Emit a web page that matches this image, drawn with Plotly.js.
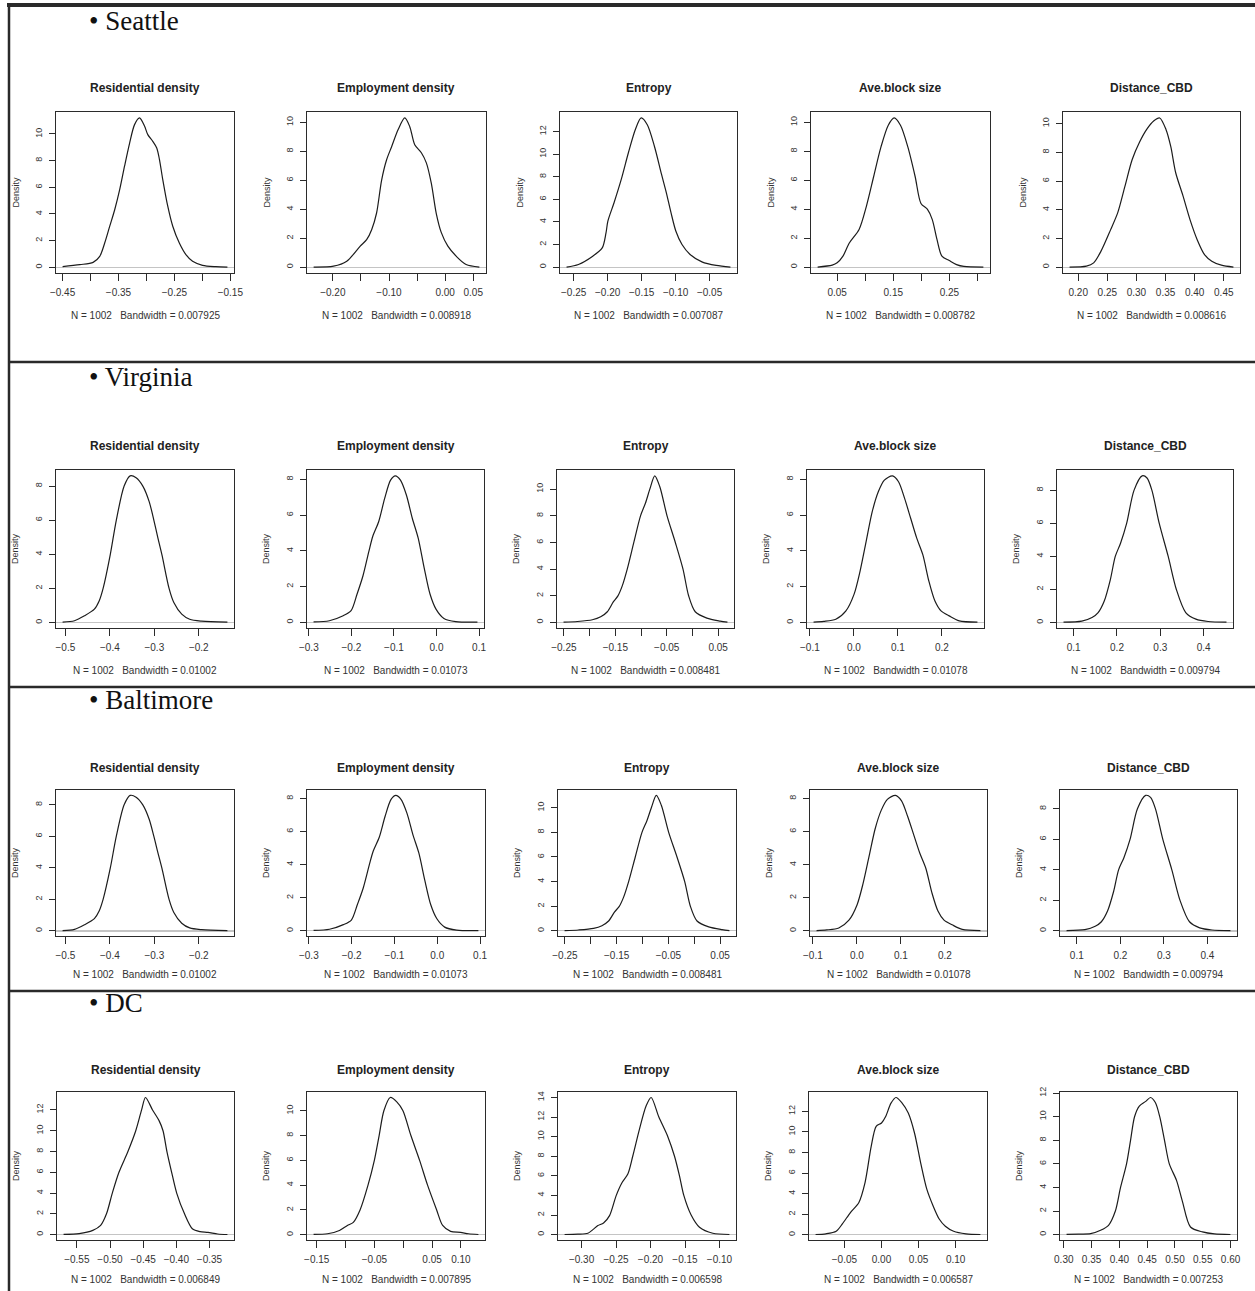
<!DOCTYPE html>
<html>
<head>
<meta charset="utf-8">
<script src="https://cdn.plot.ly/plotly-3.0.1.min.js"></script>
<style>
html,body{margin:0;padding:0;background:#fff;}
#chart{width:1255px;height:1291px;}
</style>
</head>
<body>
<div id="chart"></div>
<script>
// ---------------- DATA ----------------
const regions = ['Seattle', 'Virginia', 'Baltimore', 'DC'];
const variables = ['Residential density', 'Employment density', 'Entropy', 'Ave.block size', 'Distance_CBD'];
const sampleSize = 1002;

// Seattle
const seattleResX = [-0.450,-0.4192,-0.3954,-0.3836,-0.3747,-0.3658,-0.3569,-0.3480,-0.3391,-0.3302,-0.3213,-0.3124,-0.3035,-0.2976,-0.2887,-0.2816,-0.2768,-0.2709,-0.2620,-0.2531,-0.2412,-0.2294,-0.2175,-0.1997,-0.1760,-0.1552];
const seattleResY = [0.05,0.2,0.37,0.82,1.82,3.07,4.3,5.8,7.6,9.3,10.7,11.2,10.6,9.95,9.45,8.95,8.1,6.6,4.6,3.1,1.82,0.95,0.45,0.15,0.05,0.02];
const seattleEmpX = [-0.2342,-0.1988,-0.1752,-0.1516,-0.1398,-0.1309,-0.1221,-0.1132,-0.1044,-0.0955,-0.0837,-0.0719,-0.0630,-0.0542,-0.0424,-0.0335,-0.0247,-0.0158,-0.0070,0.0048,0.0196,0.0373,0.0609];
const seattleEmpY = [0.01,0.07,0.41,1.44,1.90,2.59,3.74,6.0,7.4,8.3,9.5,10.3,9.7,8.45,7.9,7.2,5.8,3.7,2.4,1.45,0.76,0.18,0.01];
const seattleEntX = [-0.2605,-0.243,-0.222,-0.208,-0.2025,-0.1997,-0.1906,-0.180,-0.1696,-0.1591,-0.1507,-0.1417,-0.1312,-0.1207,-0.1137,-0.1067,-0.0997,-0.0906,-0.0787,-0.0613,-0.0403,-0.0193];
const seattleEntY = [0.01,0.24,0.97,1.7,3.0,4.07,5.7,7.76,10.1,12.2,13.2,12.6,10.7,8.2,6.6,4.8,3.2,2.0,1.12,0.47,0.15,0.01];
const seattleBlkX = [0.0153,0.0413,0.050,0.0604,0.0717,0.0891,0.1021,0.1151,0.1281,0.1411,0.1516,0.1628,0.1759,0.1889,0.1993,0.2106,0.2193,0.2279,0.2366,0.2496,0.2627,0.2757,0.3104];
const seattleBlkY = [0.01,0.14,0.30,0.76,1.67,2.6,4.2,6.26,8.3,9.8,10.3,9.8,8.3,6.26,4.4,4.0,3.3,1.9,0.76,0.46,0.18,0.05,0.01];
const seattleCbdX = [0.1851,0.2141,0.2265,0.2389,0.2555,0.2679,0.2803,0.2927,0.3052,0.3176,0.3300,0.3399,0.3507,0.3590,0.3673,0.3797,0.3921,0.4045,0.4169,0.4294,0.4459,0.4666];
const seattleCbdY = [0.01,0.07,0.3,1.1,2.6,3.8,5.65,7.5,8.7,9.6,10.2,10.4,9.6,8.4,6.6,5.0,3.3,1.9,0.88,0.42,0.14,0.01];
const seattleBandwidth = ['0.007925','0.008918','0.007087','0.008782','0.008616'];

// Virginia
const virginiaResX = [-0.5063,-0.4795,-0.4571,-0.4348,-0.4241,-0.4152,-0.3991,-0.3857,-0.3679,-0.3544,-0.3410,-0.3259,-0.3116,-0.3009,-0.2919,-0.2830,-0.2669,-0.2562,-0.2384,-0.2205,-0.1937,-0.1357];
const virginiaResY = [0.02,0.10,0.39,0.78,1.26,2.0,3.98,5.98,8.0,8.6,8.49,8.0,7.09,5.98,4.95,3.98,2.0,1.17,0.49,0.19,0.08,0.02];
const virginiaEmpX = [-0.2889,-0.2517,-0.2193,-0.2007,-0.1868,-0.1729,-0.1589,-0.1497,-0.1357,-0.1218,-0.1079,-0.0968,-0.0847,-0.0708,-0.0569,-0.0430,-0.0290,-0.0151,-0.0012,0.0174,0.0452,0.0962];
const virginiaEmpY = [0.02,0.09,0.37,0.65,1.57,2.59,3.97,4.81,5.64,6.93,7.95,8.19,7.95,7.12,5.82,4.71,3.05,1.57,0.74,0.22,0.04,0.01];
const virginiaEntX = [-0.2506,-0.2236,-0.1945,-0.1784,-0.1655,-0.1539,-0.1449,-0.1365,-0.1268,-0.1140,-0.1010,-0.0913,-0.0829,-0.0733,-0.0636,-0.0494,-0.0333,-0.0184,-0.0075,0.0054,0.0280,0.0538,0.0680];
const virginiaEntY = [0.02,0.07,0.2,0.42,0.80,1.54,1.99,2.74,4.0,6.0,8.0,8.96,10.0,11.0,10.2,8.0,6.0,4.0,2.0,0.80,0.32,0.10,0.02];
const virginiaBlkX = [-0.0917,-0.0687,-0.0411,-0.0181,0.0003,0.0141,0.0279,0.0417,0.0555,0.0693,0.0877,0.1015,0.1153,0.1291,0.1429,0.1567,0.1705,0.1843,0.1981,0.2165,0.2395,0.2809];
const virginiaBlkY = [0.02,0.06,0.18,0.65,1.57,2.87,4.53,6.19,7.30,7.95,8.19,7.86,6.93,5.82,4.71,3.79,2.31,1.20,0.65,0.37,0.09,0.02];
const virginiaCbdX = [0.0765,0.1188,0.1423,0.1565,0.1706,0.1847,0.1960,0.2082,0.2223,0.2393,0.2581,0.2694,0.2807,0.2976,0.3183,0.3371,0.3588,0.3823,0.4105,0.4529];
const virginiaCbdY = [0.02,0.08,0.3,0.6,1.3,2.6,4.0,4.8,6.0,8.0,8.88,8.75,8.0,6.0,4.0,2.0,0.6,0.2,0.06,0.02];
const virginiaBandwidth = ['0.01002','0.01073','0.008481','0.01078','0.009794'];

// Baltimore (the reference shows the very same curves as Virginia)
const baltimoreResX = virginiaResX, baltimoreResY = virginiaResY;
const baltimoreEmpX = virginiaEmpX, baltimoreEmpY = virginiaEmpY;
const baltimoreEntX = virginiaEntX, baltimoreEntY = virginiaEntY;
const baltimoreBlkX = virginiaBlkX, baltimoreBlkY = virginiaBlkY;
const baltimoreCbdX = virginiaCbdX, baltimoreCbdY = virginiaCbdY;
const baltimoreBandwidth = ['0.01002','0.01073','0.008481','0.01078','0.009794'];

// DC
const dcResX = [-0.570,-0.5465,-0.5259,-0.5141,-0.5053,-0.4965,-0.4865,-0.4730,-0.4612,-0.4524,-0.4465,-0.4359,-0.4259,-0.4201,-0.4142,-0.4071,-0.3995,-0.3877,-0.3759,-0.3642,-0.3524,-0.3377,-0.3230];
const dcResY = [0.03,0.10,0.41,0.89,2.0,4.0,6.0,8.0,10.0,12.0,13.2,12.0,10.95,10.0,8.0,6.0,4.0,2.0,0.57,0.29,0.22,0.06,0.01];
const dcEmpX = [-0.1555,-0.1314,-0.1107,-0.0969,-0.0866,-0.0749,-0.0611,-0.0501,-0.0418,-0.0336,-0.0225,-0.0108,-0.0005,0.0133,0.0284,0.0422,0.0580,0.0684,0.0822,0.0994,0.1132,0.1304];
const dcEmpY = [0.03,0.08,0.35,0.75,1.0,2.0,4.0,6.0,8.0,10.0,11.07,10.7,10.0,8.0,6.0,4.0,2.0,0.75,0.27,0.19,0.08,0.02];
const dcEntX = [-0.3246,-0.3053,-0.2908,-0.2836,-0.2763,-0.2681,-0.2594,-0.2498,-0.2416,-0.2329,-0.2256,-0.2160,-0.2063,-0.1991,-0.1879,-0.1749,-0.1652,-0.1580,-0.1517,-0.1411,-0.1290,-0.1097,-0.0856];
const dcEntY = [0.01,0.04,0.14,0.51,0.92,1.19,1.94,3.98,5.27,6.18,8.05,10.77,13.15,14.0,12.0,10.0,8.0,6.0,4.0,2.0,0.75,0.14,0.01];
const dcBlkX = [-0.0889,-0.0750,-0.0611,-0.0528,-0.0417,-0.0305,-0.0222,-0.0139,-0.0072,0.0000,0.0056,0.0128,0.0195,0.0278,0.0361,0.0445,0.0528,0.0611,0.0695,0.0778,0.0861,0.0973,0.1140,0.1334];
const dcBlkY = [0.03,0.10,0.35,1.06,2.19,3.15,5.08,8.6,10.55,10.87,11.5,12.8,13.35,12.8,11.84,9.9,7.0,4.44,2.83,1.54,0.84,0.35,0.10,0.03];
const dcCbdX = [0.3050,0.3266,0.3482,0.3662,0.3805,0.3928,0.4021,0.4129,0.4201,0.4273,0.4359,0.4474,0.4560,0.4647,0.4726,0.4812,0.4898,0.5028,0.5135,0.5279,0.5495,0.5711,0.5998];
const dcCbdY = [0.03,0.05,0.08,0.37,0.79,2.0,4.0,6.0,8.0,10.0,10.9,11.3,11.63,11.2,10.0,8.0,6.0,4.6,2.8,0.65,0.23,0.06,0.01];
const dcBandwidth = ['0.006849','0.007895','0.006598','0.006587','0.007253'];

// x tick values and labels (blank label = tick without label, as in the reference)
const seattleTickVals = [
  [-0.45,-0.40,-0.35,-0.30,-0.25,-0.20,-0.15],
  [-0.20,-0.15,-0.10,-0.05,0.00,0.05],
  [-0.25,-0.20,-0.15,-0.10,-0.05],
  [0.05,0.10,0.15,0.20,0.25,0.30],
  [0.20,0.25,0.30,0.35,0.40,0.45]];
const seattleTickText = [
  ['\u22120.45','','\u22120.35','','\u22120.25','','\u22120.15'],
  ['\u22120.20','','\u22120.10','','0.00','0.05'],
  ['\u22120.25','\u22120.20','\u22120.15','\u22120.10','\u22120.05'],
  ['0.05','','0.15','','0.25',''],
  ['0.20','0.25','0.30','0.35','0.40','0.45']];
const virginiaTickVals = [
  [-0.5,-0.4,-0.3,-0.2],
  [-0.3,-0.2,-0.1,0.0,0.1],
  [-0.25,-0.20,-0.15,-0.10,-0.05,0.00,0.05],
  [-0.1,0.0,0.1,0.2],
  [0.1,0.2,0.3,0.4]];
const virginiaTickText = [
  ['\u22120.5','\u22120.4','\u22120.3','\u22120.2'],
  ['\u22120.3','\u22120.2','\u22120.1','0.0','0.1'],
  ['\u22120.25','','\u22120.15','','\u22120.05','','0.05'],
  ['\u22120.1','0.0','0.1','0.2'],
  ['0.1','0.2','0.3','0.4']];
const baltimoreTickVals = virginiaTickVals;
const baltimoreTickText = virginiaTickText;
const dcTickVals = [
  [-0.55,-0.50,-0.45,-0.40,-0.35],
  [-0.15,-0.10,-0.05,0.00,0.05,0.10],
  [-0.30,-0.25,-0.20,-0.15,-0.10],
  [-0.05,0.00,0.05,0.10],
  [0.30,0.35,0.40,0.45,0.50,0.55,0.60]];
const dcTickText = [
  ['\u22120.55','\u22120.50','\u22120.45','\u22120.40','\u22120.35'],
  ['\u22120.15','','\u22120.05','','0.05','0.10'],
  ['\u22120.30','\u22120.25','\u22120.20','\u22120.15','\u22120.10'],
  ['\u22120.05','0.00','0.05','0.10'],
  ['0.30','0.35','0.40','0.45','0.50','0.55','0.60']];

const seriesX = [
  [seattleResX, seattleEmpX, seattleEntX, seattleBlkX, seattleCbdX],
  [virginiaResX, virginiaEmpX, virginiaEntX, virginiaBlkX, virginiaCbdX],
  [baltimoreResX, baltimoreEmpX, baltimoreEntX, baltimoreBlkX, baltimoreCbdX],
  [dcResX, dcEmpX, dcEntX, dcBlkX, dcCbdX]];
const seriesY = [
  [seattleResY, seattleEmpY, seattleEntY, seattleBlkY, seattleCbdY],
  [virginiaResY, virginiaEmpY, virginiaEntY, virginiaBlkY, virginiaCbdY],
  [baltimoreResY, baltimoreEmpY, baltimoreEntY, baltimoreBlkY, baltimoreCbdY],
  [dcResY, dcEmpY, dcEntY, dcBlkY, dcCbdY]];
const bandwidths = [seattleBandwidth, virginiaBandwidth, baltimoreBandwidth, dcBandwidth];
const tickVals = [seattleTickVals, virginiaTickVals, baltimoreTickVals, dcTickVals];
const tickText = [seattleTickText, virginiaTickText, baltimoreTickText, dcTickText];

// ---------------- LAYOUT GEOMETRY (pixels) ----------------
const W = 1255, H = 1291;
const rowGeom = [
  {top:112, bottom:273, title:88, note:315, header:21,
   cols:[[56,234],[307,486],[560,737],[811,990],[1063,1240]]},
  {top:470, bottom:628, title:446, note:670, header:377,
   cols:[[56,234],[307,484],[557,734],[807,984],[1057,1233]]},
  {top:790, bottom:936, title:768, note:974, header:700,
   cols:[[56,234],[307,485],[558,736],[810,987],[1060,1237]]},
  {top:1092, bottom:1240, title:1070, note:1279, header:1003,
   cols:[[57,234],[307,485],[558,736],[809,987],[1060,1237]]}];

const px = v => v / W;
const py = v => 1 - v / H;
const SANS = 'Liberation Sans, Arial, Helvetica, sans-serif';
const SERIF = 'Liberation Serif, Times New Roman, serif';
const INK = '#2b2b2b';

function padded(arr) {
  const lo = Math.min(...arr), hi = Math.max(...arr);
  const d = (hi - lo) * 0.04;
  return [lo - d, hi + d];
}

const traces = [];
const layout = {
  width: W, height: H,
  margin: {l:0, r:0, t:0, b:0},
  paper_bgcolor: '#ffffff', plot_bgcolor: '#ffffff',
  showlegend: false,
  annotations: [], shapes: []
};

let k = 0;
for (let r = 0; r < 4; r++) {
  const g = rowGeom[r];
  for (let c = 0; c < 5; c++) {
    k++;
    const xa = 'xaxis' + (k === 1 ? '' : k), ya = 'yaxis' + (k === 1 ? '' : k);
    const xid = 'x' + (k === 1 ? '' : k), yid = 'y' + (k === 1 ? '' : k);
    const [L, R] = g.cols[c];
    traces.push({
      type: 'scatter', mode: 'lines',
      x: seriesX[r][c], y: seriesY[r][c],
      xaxis: xid, yaxis: yid,
      line: {color: '#1c1c1c', width: 1.2, shape: 'spline', smoothing: 0.8},
      hoverinfo: 'skip'
    });
    layout[xa] = {
      domain: [px(L), px(R)], anchor: yid,
      range: padded(seriesX[r][c]),
      tickmode: 'array', tickvals: tickVals[r][c], ticktext: tickText[r][c],
      ticks: 'outside', ticklen: 7, tickwidth: 1, tickcolor: INK,
      ticklabelstandoff: 3,
      showline: true, mirror: true, linecolor: INK, linewidth: 1.3,
      showgrid: false, zeroline: false,
      tickfont: {family: SANS, size: 10, color: '#333'}
    };
    layout[ya] = {
      domain: [py(g.bottom), py(g.top)], anchor: xid,
      range: padded(seriesY[r][c]),
      tickmode: 'linear', tick0: 0, dtick: 2,
      ticks: 'outside', ticklen: 6, tickwidth: 1, tickcolor: INK,
      tickangle: -90, ticklabelstandoff: 3,
      showline: true, mirror: true, linecolor: INK, linewidth: 1.3,
      showgrid: false,
      zeroline: true, zerolinecolor: '#c4c4c4', zerolinewidth: 1.2,
      tickfont: {family: SANS, size: 9, color: '#333'}
    };
    const cx = (L + R) / 2;
    layout.annotations.push({
      xref: 'paper', yref: 'paper', x: px(cx), y: py(g.title),
      xanchor: 'center', yanchor: 'middle', showarrow: false,
      text: '<b>' + variables[c] + '</b>',
      font: {family: SANS, size: 12, color: '#222'}
    });
    layout.annotations.push({
      xref: 'paper', yref: 'paper', x: px(cx), y: py(g.note),
      xanchor: 'center', yanchor: 'middle', showarrow: false,
      text: 'N = ' + sampleSize + '\u00a0\u00a0 Bandwidth = ' + bandwidths[r][c],
      font: {family: SANS, size: 10, color: '#333'}
    });
    layout.annotations.push({
      xref: 'paper', yref: 'paper', x: px(L - 41), y: py((g.top + g.bottom) / 2),
      xanchor: 'center', yanchor: 'middle', showarrow: false, textangle: -90,
      text: 'Density',
      font: {family: SANS, size: 9, color: '#333'}
    });
  }
  // region header
  layout.annotations.push({
    xref: 'paper', yref: 'paper', x: px(87), y: py(g.header),
    xanchor: 'left', yanchor: 'middle', showarrow: false,
    text: '\u2022 ' + regions[r],
    font: {family: SERIF, size: 27, color: '#111'}
  });
}

// page frame / separators
function hline(y, x0, x1, w) {
  layout.shapes.push({type:'line', xref:'paper', yref:'paper',
    x0: px(x0), x1: px(x1), y0: py(y), y1: py(y), line:{color:'#2a2a2a', width:w}});
}
function vline(x, y0, y1, w) {
  layout.shapes.push({type:'line', xref:'paper', yref:'paper',
    x0: px(x), x1: px(x), y0: py(y0), y1: py(y1), line:{color:'#2a2a2a', width:w}});
}
hline(5, 7, 1255, 4);
vline(9, 3, 1291, 2.5);
hline(362, 9, 1255, 2.5);
hline(687, 9, 1255, 2.5);
hline(991, 9, 1255, 2.5);

Plotly.newPlot('chart', traces, layout, {displayModeBar: false, staticPlot: true});
</script>
</body>
</html>
